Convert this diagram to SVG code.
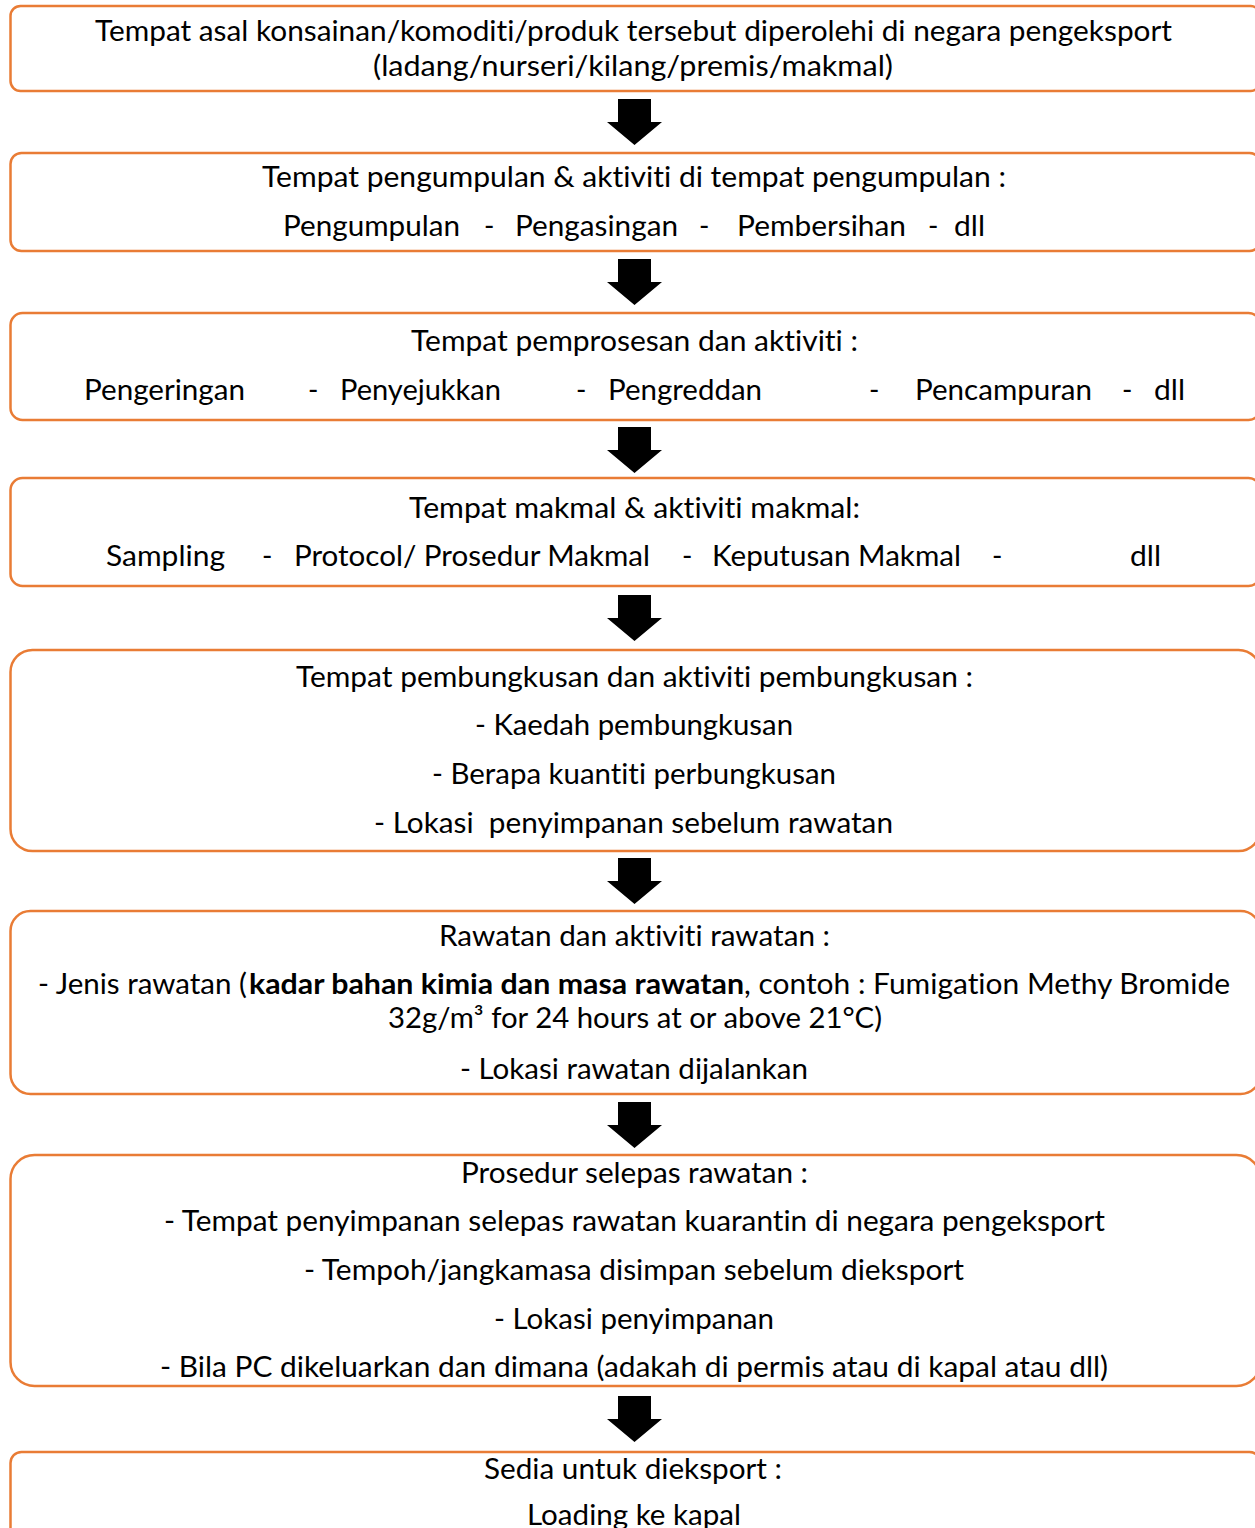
<svg xmlns="http://www.w3.org/2000/svg" width="1255" height="1528" viewBox="0 0 1255 1528">
<style>
.box{fill:#ffffff;stroke:#E97C35;stroke-width:2.5}
text{font-family:Lato,"Liberation Sans",sans-serif;font-size:28px;fill:#000;font-variant-ligatures:none;font-feature-settings:"liga" 0}
.b{font-weight:bold}
.arr{fill:#000}
</style>
<defs>
<polygon id="arrow" points="618,0 651,0 651,23 662,23 634.5,46 607,23 618,23"/>
</defs>
<rect width="1255" height="1528" fill="#fff"/>
<g id="connectors">
<use href="#arrow" class="arr" y="99"/>
<use href="#arrow" class="arr" y="259"/>
<use href="#arrow" class="arr" y="427"/>
<use href="#arrow" class="arr" y="595"/>
<use href="#arrow" class="arr" y="858"/>
<use href="#arrow" class="arr" y="1102"/>
<use href="#arrow" class="arr" y="1396"/>
</g>
<g id="node1">
<rect class="box" x="10.5" y="6" width="1250" height="85" rx="10"/>
<text x="95" y="41" textLength="1077" lengthAdjust="spacingAndGlyphs">Tempat asal konsainan/komoditi/produk tersebut diperolehi di negara pengeksport</text>
<text x="373" y="76" textLength="520" lengthAdjust="spacingAndGlyphs">(ladang/nurseri/kilang/premis/makmal)</text>
</g>
<g id="node2">
<rect class="box" x="10.5" y="153" width="1250" height="98" rx="11"/>
<text x="262" y="187" textLength="744" lengthAdjust="spacingAndGlyphs">Tempat pengumpulan &amp; aktiviti di tempat pengumpulan :</text>
<text x="283" y="236" textLength="177" lengthAdjust="spacingAndGlyphs">Pengumpulan</text>
<text x="484" y="236">-</text>
<text x="515" y="236" textLength="163" lengthAdjust="spacingAndGlyphs">Pengasingan</text>
<text x="699" y="236">-</text>
<text x="737" y="236" textLength="169" lengthAdjust="spacingAndGlyphs">Pembersihan</text>
<text x="928" y="236">-</text>
<text x="954" y="236" textLength="31" lengthAdjust="spacingAndGlyphs">dll</text>
</g>
<g id="node3">
<rect class="box" x="10.5" y="313" width="1250" height="107" rx="12"/>
<text x="411" y="351" textLength="447" lengthAdjust="spacingAndGlyphs">Tempat pemprosesan dan aktiviti :</text>
<text x="84" y="400" textLength="161" lengthAdjust="spacingAndGlyphs">Pengeringan</text>
<text x="308" y="400">-</text>
<text x="340" y="400" textLength="161" lengthAdjust="spacingAndGlyphs">Penyejukkan</text>
<text x="576" y="400">-</text>
<text x="608" y="400" textLength="154" lengthAdjust="spacingAndGlyphs">Pengreddan</text>
<text x="869" y="400">-</text>
<text x="915" y="400" textLength="177" lengthAdjust="spacingAndGlyphs">Pencampuran</text>
<text x="1122" y="400">-</text>
<text x="1154" y="400" textLength="31" lengthAdjust="spacingAndGlyphs">dll</text>
</g>
<g id="node4">
<rect class="box" x="10.5" y="478" width="1250" height="108" rx="12"/>
<text x="409" y="518" textLength="451" lengthAdjust="spacingAndGlyphs">Tempat makmal &amp; aktiviti makmal:</text>
<text x="106" y="566" textLength="119" lengthAdjust="spacingAndGlyphs">Sampling</text>
<text x="262" y="566">-</text>
<text x="294" y="566" textLength="356" lengthAdjust="spacingAndGlyphs">Protocol/ Prosedur Makmal</text>
<text x="682" y="566">-</text>
<text x="712" y="566" textLength="249" lengthAdjust="spacingAndGlyphs">Keputusan Makmal</text>
<text x="992" y="566">-</text>
<text x="1130" y="566" textLength="31" lengthAdjust="spacingAndGlyphs">dll</text>
</g>
<g id="node5">
<rect class="box" x="10.5" y="650" width="1250" height="201" rx="22"/>
<text x="296" y="687" textLength="677" lengthAdjust="spacingAndGlyphs">Tempat pembungkusan dan aktiviti pembungkusan :</text>
<text x="475" y="735" textLength="318" lengthAdjust="spacingAndGlyphs">- Kaedah pembungkusan</text>
<text x="432" y="784" textLength="404" lengthAdjust="spacingAndGlyphs">- Berapa kuantiti perbungkusan</text>
<text x="374" y="833" textLength="519" lengthAdjust="spacingAndGlyphs" xml:space="preserve">- Lokasi  penyimpanan sebelum rawatan</text>
</g>
<g id="node6">
<rect class="box" x="10.5" y="911" width="1250" height="183" rx="20"/>
<text x="439" y="946" textLength="391" lengthAdjust="spacingAndGlyphs">Rawatan dan aktiviti rawatan :</text>
<text x="38" y="994" textLength="209" lengthAdjust="spacingAndGlyphs">- Jenis rawatan (</text>
<text class="b" x="249" y="994" textLength="495" lengthAdjust="spacingAndGlyphs">kadar bahan kimia dan masa rawatan</text>
<text x="744" y="994" textLength="486" lengthAdjust="spacingAndGlyphs">, contoh : Fumigation Methy Bromide</text>
<text x="388" y="1028" textLength="494" lengthAdjust="spacingAndGlyphs">32g/m³ for 24 hours at or above 21°C)</text>
<text x="460" y="1079" textLength="348" lengthAdjust="spacingAndGlyphs">- Lokasi rawatan dijalankan</text>
</g>
<g id="node7">
<rect class="box" x="10.5" y="1155" width="1250" height="231" rx="24"/>
<text x="461" y="1183" textLength="347" lengthAdjust="spacingAndGlyphs">Prosedur selepas rawatan :</text>
<text x="164" y="1231" textLength="941" lengthAdjust="spacingAndGlyphs">- Tempat penyimpanan selepas rawatan kuarantin di negara pengeksport</text>
<text x="304" y="1280" textLength="660" lengthAdjust="spacingAndGlyphs">- Tempoh/jangkamasa disimpan sebelum dieksport</text>
<text x="494" y="1329" textLength="280" lengthAdjust="spacingAndGlyphs">- Lokasi penyimpanan</text>
<text x="160" y="1377" textLength="948" lengthAdjust="spacingAndGlyphs">- Bila PC dikeluarkan dan dimana (adakah di permis atau di kapal atau dll)</text>
</g>
<g id="node8">
<rect class="box" x="10.5" y="1452" width="1250" height="200" rx="11"/>
<text x="484" y="1479" textLength="298" lengthAdjust="spacingAndGlyphs">Sedia untuk dieksport :</text>
<text x="527" y="1525" textLength="214" lengthAdjust="spacingAndGlyphs">Loading ke kapal</text>
</g>
</svg>
